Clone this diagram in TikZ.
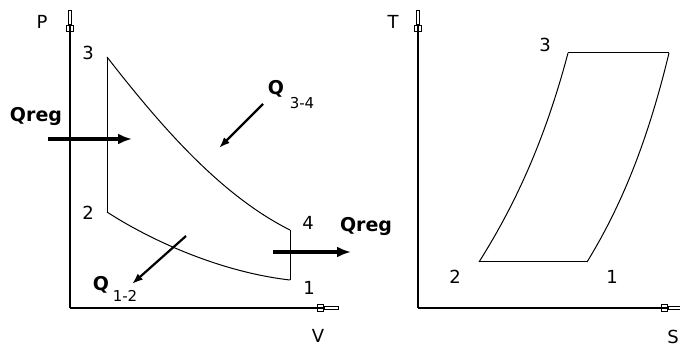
\documentclass[tikz,border=0pt]{standalone}
\usepackage{fontspec}
\setmainfont{DejaVu Sans}
\usetikzlibrary{arrows.meta}

\tikzset{
  axis/.style={line width=1.6pt,-{Rectangle[open,length=7pt,width=8pt,line width=1.2pt]Rectangle[open,length=15pt,width=4.5pt,line width=1.2pt]}},
  cyc/.style={line width=1pt},
  heat/.style={line width=3.4pt,-{Latex[length=14pt,width=11pt]}},
  qarr/.style={line width=2.2pt,-{Latex[length=11pt,width=8pt]}},
  lbl/.style={font=\fontsize{18}{20}\selectfont,inner sep=0pt},
  qlbl/.style={font=\fontsize{19}{21}\selectfont\bfseries,inner sep=0pt},
  sublbl/.style={font=\fontsize{15}{17}\selectfont,inner sep=0pt}
}

\begin{document}
\begin{tikzpicture}[x=1pt,y=-1pt]
\useasboundingbox (0,0) rectangle (680,347);
% P-V diagram
\coordinate (o1) at (70,308);
\coordinate (ptop) at (70,10);
\coordinate (vend) at (339,308);
\draw[axis] (o1) -- (ptop);
\draw[axis] (o1) -- (vend);
\node[lbl] (lP) at (42,22) {P};
\node[lbl] (lV) at (318,336) {V};
\coordinate (c3) at (107,57);
\coordinate (c2) at (107,212);
\coordinate (c4) at (290,230);
\coordinate (c1) at (290,280);
\draw[cyc] (c2) -- (c3);
\draw[cyc] (c4) -- (c1);
\draw[cyc] (c3) .. controls (160,125) and (220,195) .. (c4);
\draw[cyc] (c2) .. controls (150,240) and (220,272) .. (c1);
\node[lbl] (n3) at (88,53) {3};
\node[lbl] (n2) at (88,213) {2};
\node[lbl] (n4) at (308,223) {4};
\node[lbl] (n1) at (309,288) {1};
% heat flows
\node[qlbl] (qin) at (36,117) {Qreg};
\coordinate (qina) at (48,139);
\coordinate (qinb) at (132,139);
\draw[heat] (qina) -- (qinb);
\node[qlbl] (qout) at (366,227) {Qreg};
\coordinate (qouta) at (273,252);
\coordinate (qoutb) at (351,252);
\draw[heat] (qouta) -- (qoutb);
\node[qlbl] (q34) at (276,89) {Q};
\node[sublbl] (q34s) at (302,103) {3-4};
\coordinate (q34a) at (263,104);
\coordinate (q34b) at (219,148);
\draw[qarr] (q34a) -- (q34b);
\node[qlbl] (q12) at (101,285) {Q};
\node[sublbl] (q12s) at (125,296) {1-2};
\coordinate (q12a) at (186,236);
\coordinate (q12b) at (132,284);
\draw[qarr] (q12a) -- (q12b);
% T-S diagram
\coordinate (o2) at (418,308);
\coordinate (ttop) at (418,10);
\coordinate (send) at (683,308);
\draw[axis] (o2) -- (ttop);
\draw[axis] (o2) -- (send);
\node[lbl] (lT) at (393,22) {T};
\node[lbl] (lS) at (673,337) {S};
\coordinate (t2) at (479,262);
\coordinate (t1) at (587,262);
\coordinate (t3) at (568,53);
\coordinate (t4) at (669,53);
\draw[cyc] (t2) -- (t1);
\draw[cyc] (t3) -- (t4);
\draw[cyc] (t2) .. controls (515,205) and (545,140) .. (t3);
\draw[cyc] (t1) .. controls (622,205) and (648,140) .. (t4);
\node[lbl] (m3) at (545,45) {3};
\node[lbl] (m2) at (455,277) {2};
\node[lbl] (m1) at (612,277) {1};
\node[lbl] (m4) at (686,47) {4};
\end{tikzpicture}
\end{document}
